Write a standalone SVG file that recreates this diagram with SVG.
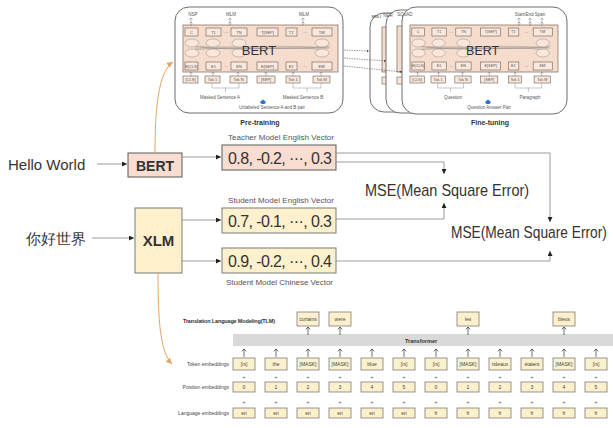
<svg xmlns="http://www.w3.org/2000/svg" width="613" height="428" viewBox="0 0 613 428">
<defs>
<style>
text{font-family:"Liberation Sans",Arial,sans-serif;fill:#333}
.t4{font-size:4px;fill:#555;text-anchor:middle}
.t45{font-size:4.5px;fill:#555;text-anchor:middle}
.t5{font-size:5px;fill:#444;text-anchor:middle}
.rl{font-size:5px;fill:#444;text-anchor:end}
.lbl{font-size:8px;fill:#555}
.vec{font-size:16px;fill:#333}
.mse{font-family:"Liberation Sans",Arial,sans-serif;font-size:16px;fill:#333}
.peach{fill:#f8ddd0;stroke:#5a5a5a;stroke-width:1}
.yel{fill:#fdf0cd;stroke:#7a7a7a;stroke-width:1}
.panel{fill:#fff;stroke:#6e6e6e;stroke-width:1}
.inner{fill:#f5dccd;stroke:#8b7566;stroke-width:0.8}
.tok{fill:#f9e8de;stroke:#6b5b50;stroke-width:0.6}
.ell{fill:#f9e6dc;stroke:#9a8a80;stroke-width:0.5}
.thin{stroke:#8c8c8c;stroke-width:0.5;fill:none}
.conn{stroke:#9a9a9a;stroke-width:1;fill:none}
.dash{stroke:#555;stroke-width:0.6;stroke-dasharray:1.5 1;fill:none}
.orange{stroke:#e3a463;stroke-width:1;fill:none}
.tb{fill:#fdf0cd;stroke:#6a6a6a;stroke-width:0.7}
.ar{stroke:#333;stroke-width:0.7;fill:none}
.ars{stroke:#777;stroke-width:0.5;fill:none}
</style>
<marker id="ah" viewBox="0 0 6 6" refX="6" refY="3" markerWidth="5" markerHeight="5" orient="auto"><path d="M0,0L6,3L0,6z" fill="#222"/></marker>
<marker id="ahs" viewBox="0 0 6 6" refX="6" refY="3" markerWidth="4" markerHeight="4" orient="auto"><path d="M0,0L6,3L0,6z" fill="#333"/></marker>
<marker id="aho" viewBox="0 0 6 6" refX="6" refY="3" markerWidth="6" markerHeight="6" orient="auto"><path d="M0,0L6,3L0,6z" fill="#e3a463"/></marker>
<path id="upar" d="M0,0V-8M-2.2,-5.6L0,-8L2.2,-5.6" class="ar"/>
<path id="sup" d="M0,0V-4M-1.5,-2.5L0,-4L1.5,-2.5" class="ars"/>
<g id="core">
<rect class="inner" x="183" y="25" width="155" height="47"/>
<rect class="tok" x="185" y="28" width="13" height="8"/>
<rect class="tok" x="206" y="28" width="15" height="8"/>
<rect class="tok" x="231" y="28" width="16" height="8"/>
<rect class="tok" x="257" y="28" width="21" height="8" stroke-width="1"/>
<rect class="tok" x="286" y="28" width="11" height="8"/>
<rect class="tok" x="312" y="28" width="20" height="8" stroke-width="1"/>
<text class="t4" x="191.5" y="33.5">C</text>
<text class="t4" x="213.5" y="33.5">T1</text>
<text class="t4" x="239" y="33.5">TN</text>
<text class="t4" x="267.5" y="33.5">T[SEP]</text>
<text class="t4" x="291.5" y="33.5">T1'</text>
<text class="t4" x="322" y="33.5">TM'</text>
<text class="t4" x="226" y="33">...</text>
<text class="t4" x="305" y="33">...</text>
<path class="thin" d="M190,46C220,49 280,44 330,48M190,50C230,46 290,51 330,46M195,48H328M200,47C240,52 290,45 325,50"/>
<ellipse class="ell" cx="192" cy="43" rx="7" ry="4"/>
<ellipse class="ell" cx="213" cy="43" rx="7" ry="4"/>
<ellipse class="ell" cx="239" cy="43" rx="7" ry="4"/>
<ellipse class="ell" cx="322" cy="43" rx="7" ry="4"/>
<ellipse class="ell" cx="192" cy="53" rx="7" ry="4"/>
<ellipse class="ell" cx="213" cy="53" rx="7" ry="4"/>
<ellipse class="ell" cx="239" cy="53" rx="7" ry="4"/>
<ellipse class="ell" cx="322" cy="53" rx="7" ry="4"/>
<text x="259" y="55" font-size="13" fill="#555" text-anchor="middle">BERT</text>
<rect class="tok" x="185" y="62" width="13" height="8"/>
<rect class="tok" x="206" y="62" width="15" height="8"/>
<rect class="tok" x="231" y="62" width="16" height="8"/>
<rect class="tok" x="257" y="62" width="21" height="8" stroke-width="1"/>
<rect class="tok" x="286" y="62" width="11" height="8"/>
<rect class="tok" x="312" y="62" width="20" height="8"/>
<text class="t4" x="191.5" y="67.5">E[CLS]</text>
<text class="t4" x="213.5" y="67.5">E1</text>
<text class="t4" x="239" y="67.5">EN</text>
<text class="t4" x="267.5" y="67.5">E[SEP]</text>
<text class="t4" x="291.5" y="67.5">E1'</text>
<text class="t4" x="322" y="67.5">EM'</text>
<text class="t4" x="226" y="67">...</text>
<text class="t4" x="305" y="67">...</text>
<use href="#sup" x="191" y="76"/>
<use href="#sup" x="213" y="76"/>
<use href="#sup" x="238" y="76"/>
<use href="#sup" x="266" y="76"/>
<use href="#sup" x="293" y="76"/>
<use href="#sup" x="321" y="76"/>
<rect class="tok" x="183" y="76" width="15" height="7"/>
<rect class="tok" x="205" y="76" width="15" height="7"/>
<rect class="tok" x="230" y="76" width="17" height="7"/>
<rect class="tok" x="257" y="76" width="18" height="7"/>
<rect class="tok" x="286" y="76" width="14" height="7"/>
<rect class="tok" x="313" y="76" width="17" height="7"/>
<text class="t4" x="190.5" y="81">[CLS]</text>
<text class="t4" x="212.5" y="81">Tok 1</text>
<text class="t4" x="238.5" y="81">Tok N</text>
<text class="t4" x="266" y="81">[SEP]</text>
<text class="t4" x="293" y="81">Tok 1</text>
<text class="t4" x="321.5" y="81">Tok M</text>
<path class="thin" d="M212,83V88H239V83M225.5,88V92M293,83V88H321V83M307,88V92"/>
</g>
</defs>

<!-- Pre-training panel -->
<g id="pretraining">
<rect class="panel" x="175" y="7" width="168" height="106" rx="14"/>
<use href="#core"/>
<use href="#sup" x="191" y="26"/><use href="#sup" x="191" y="22"/>
<use href="#sup" x="230" y="26"/><use href="#sup" x="230" y="22"/>
<use href="#sup" x="303" y="26"/><use href="#sup" x="303" y="22"/>
<text class="t45" x="193" y="16">NSP</text>
<text class="t45" x="231" y="16">MLM</text>
<text class="t45" x="304" y="16">MLM</text>
<text class="t45" x="220" y="99">Masked Sentence A</text>
<text class="t45" x="303" y="99">Masked Sentence B</text>
<path d="M260,102L263,99.5L266,102L264.5,104H261.5Z" fill="#2f6fd0"/>
<text class="t45" x="272" y="109">Unlabeled Sentence A and B pair</text>
<text x="260" y="125" font-size="7" font-weight="bold" fill="#333" text-anchor="middle">Pre-training</text>
</g>

<!-- Fine-tuning panels -->
<g id="finetune-mnli">
<rect class="panel" x="370" y="13" width="165" height="99" rx="14"/>
<rect class="inner" x="382" y="27" width="40" height="45"/>
<rect class="tok" x="382" y="77" width="12" height="7"/>
<text x="371.5" y="18" font-size="4" fill="#555">MNLI</text>
</g>
<g id="finetune-ner">
<rect class="panel" x="386" y="10" width="170" height="103" rx="14"/>
<rect class="inner" x="397" y="26" width="40" height="46"/>
<rect class="tok" x="397" y="77" width="12" height="7"/>
<text class="t45" x="388" y="17" text-anchor="start">NER</text>
</g>
<g id="finetune-squad">
<rect class="panel" x="402" y="7" width="165" height="107" rx="14"/>
<use href="#core" transform="matrix(0.955,0,0,1,235.2,0)"/>
<text class="t45" x="405" y="16" text-anchor="start">SQuAD</text>
<use href="#sup" x="519" y="26"/><use href="#sup" x="519" y="22"/>
<use href="#sup" x="530" y="26"/><use href="#sup" x="530" y="22"/>
<use href="#sup" x="542" y="26"/><use href="#sup" x="542" y="22"/>
<text class="t45" x="530" y="16">Start/End Span</text>
<text class="t45" x="453" y="99">Question</text>
<text class="t45" x="530" y="99">Paragraph</text>
<path d="M485,102L488,99.5L491,102L489.5,104H486.5Z" fill="#2f6fd0"/>
<text class="t45" x="489" y="109">Question Answer Pair</text>
<text x="490" y="125" font-size="7" font-weight="bold" fill="#333" text-anchor="middle">Fine-tuning</text>
</g>

<!-- Middle nodes -->
<g id="hello"><text x="8" y="170" font-size="15">Hello World</text></g>
<g id="nihao"><text x="26" y="244" font-size="15" font-family="'Noto Sans CJK SC',sans-serif">你好世界</text></g>
<g id="bert">
<rect class="peach" x="128" y="153" width="54" height="24"/>
<text x="155" y="170.5" font-size="14" font-weight="bold" text-anchor="middle">BERT</text>
</g>
<g id="xlm">
<rect class="yel" x="135" y="208" width="47" height="65"/>
<text x="158.5" y="246" font-size="15" font-weight="bold" text-anchor="middle">XLM</text>
</g>
<g id="teacher-vec">
<text class="lbl" x="228" y="140" textLength="106">Teacher Model English Vector</text>
<rect class="peach" x="222" y="145" width="114" height="25"/>
<text class="vec" x="228" y="163.5" textLength="104">0.8, -0.2, ···, 0.3</text>
</g>
<g id="student-en-vec">
<text class="lbl" x="228" y="203" textLength="106">Student Model English Vector</text>
<rect class="yel" x="222" y="208" width="114" height="25"/>
<text class="vec" x="228" y="226.5" textLength="104">0.7, -0.1, ···, 0.3</text>
</g>
<g id="student-zh-vec">
<rect class="yel" x="222" y="248" width="114" height="25"/>
<text class="vec" x="228" y="266.5" textLength="104">0.9, -0.2, ···, 0.4</text>
<text class="lbl" x="226" y="285" textLength="107">Student Model Chinese Vector</text>
</g>
<g id="mse1"><text class="mse" transform="translate(365,196) scale(0.905,1)" x="0" y="0">MSE(Mean Square Error)</text></g>
<g id="mse2"><text class="mse" transform="translate(451,238) scale(0.86,1)" x="0" y="0">MSE(Mean Square Error)</text></g>

<!-- TLM figure -->
<g id="tlm">
<text x="183" y="323" font-size="5.5" font-weight="bold" fill="#333" textLength="92">Translation Language Modeling(TLM)</text>
<rect x="233" y="334" width="380" height="12" fill="#d9d9d9"/>
<text x="405" y="342.5" font-size="5.5" font-weight="bold" fill="#333">Transformer</text>
<rect class="tb" x="297" y="312" width="22" height="14"/><text class="t5" x="308" y="320.5">curtains</text>
<rect class="tb" x="329" y="312" width="22" height="14"/><text class="t5" x="340" y="320.5">were</text>
<rect class="tb" x="457" y="312" width="22" height="14"/><text class="t5" x="468" y="320.5">les</text>
<rect class="tb" x="553" y="312" width="22" height="14"/><text class="t5" x="564" y="320.5">bleus</text>
<use href="#upar" x="308" y="335"/><use href="#upar" x="340" y="335"/><use href="#upar" x="468" y="335"/><use href="#upar" x="564" y="335"/>
<text class="rl" x="229" y="366">Token embeddings</text>
<text class="rl" x="229" y="389">Position embeddings</text>
<text class="rl" x="229" y="415">Language embeddings</text>
<g id="tok-row">
<use href="#upar" x="244" y="357"/><use href="#upar" x="276" y="357"/><use href="#upar" x="308" y="357"/><use href="#upar" x="340" y="357"/><use href="#upar" x="372" y="357"/><use href="#upar" x="404" y="357"/><use href="#upar" x="436" y="357"/><use href="#upar" x="468" y="357"/><use href="#upar" x="500" y="357"/><use href="#upar" x="532" y="357"/><use href="#upar" x="564" y="357"/><use href="#upar" x="596" y="357"/>
<rect class="tb" x="233" y="358" width="22" height="12"/><rect class="tb" x="265" y="358" width="22" height="12"/><rect class="tb" x="297" y="358" width="22" height="12"/><rect class="tb" x="329" y="358" width="22" height="12"/><rect class="tb" x="361" y="358" width="22" height="12"/><rect class="tb" x="393" y="358" width="22" height="12"/><rect class="tb" x="425" y="358" width="22" height="12"/><rect class="tb" x="457" y="358" width="22" height="12"/><rect class="tb" x="489" y="358" width="22" height="12"/><rect class="tb" x="521" y="358" width="22" height="12"/><rect class="tb" x="553" y="358" width="22" height="12"/><rect class="tb" x="585" y="358" width="22" height="12"/>
<text class="t5" x="244" y="365.8">[/s]</text><text class="t5" x="276" y="365.8">the</text><text class="t5" x="308" y="365.8">[MASK]</text><text class="t5" x="340" y="365.8">[MASK]</text><text class="t5" x="372" y="365.8">blue</text><text class="t5" x="404" y="365.8">[/s]</text><text class="t5" x="436" y="365.8">[/s]</text><text class="t5" x="468" y="365.8">[MASK]</text><text class="t5" x="500" y="365.8">rideaux</text><text class="t5" x="532" y="365.8">étaient</text><text class="t5" x="564" y="365.8">[MASK]</text><text class="t5" x="596" y="365.8">[/s]</text>
</g>
<g id="plus" fill="#777">
<text class="t5" x="244" y="379">+</text><text class="t5" x="276" y="379">+</text><text class="t5" x="308" y="379">+</text><text class="t5" x="340" y="379">+</text><text class="t5" x="372" y="379">+</text><text class="t5" x="404" y="379">+</text><text class="t5" x="436" y="379">+</text><text class="t5" x="468" y="379">+</text><text class="t5" x="500" y="379">+</text><text class="t5" x="532" y="379">+</text><text class="t5" x="564" y="379">+</text><text class="t5" x="596" y="379">+</text>
<text class="t5" x="244" y="404">+</text><text class="t5" x="276" y="404">+</text><text class="t5" x="308" y="404">+</text><text class="t5" x="340" y="404">+</text><text class="t5" x="372" y="404">+</text><text class="t5" x="404" y="404">+</text><text class="t5" x="436" y="404">+</text><text class="t5" x="468" y="404">+</text><text class="t5" x="500" y="404">+</text><text class="t5" x="532" y="404">+</text><text class="t5" x="564" y="404">+</text><text class="t5" x="596" y="404">+</text>
</g>
<g id="pos-row">
<rect class="tb" x="233" y="382" width="22" height="10"/><rect class="tb" x="265" y="382" width="22" height="10"/><rect class="tb" x="297" y="382" width="22" height="10"/><rect class="tb" x="329" y="382" width="22" height="10"/><rect class="tb" x="361" y="382" width="22" height="10"/><rect class="tb" x="393" y="382" width="22" height="10"/><rect class="tb" x="425" y="382" width="22" height="10"/><rect class="tb" x="457" y="382" width="22" height="10"/><rect class="tb" x="489" y="382" width="22" height="10"/><rect class="tb" x="521" y="382" width="22" height="10"/><rect class="tb" x="553" y="382" width="22" height="10"/><rect class="tb" x="585" y="382" width="22" height="10"/>
<text class="t5" x="244" y="388.8">0</text><text class="t5" x="276" y="388.8">1</text><text class="t5" x="308" y="388.8">2</text><text class="t5" x="340" y="388.8">3</text><text class="t5" x="372" y="388.8">4</text><text class="t5" x="404" y="388.8">5</text><text class="t5" x="436" y="388.8">0</text><text class="t5" x="468" y="388.8">1</text><text class="t5" x="500" y="388.8">2</text><text class="t5" x="532" y="388.8">3</text><text class="t5" x="564" y="388.8">4</text><text class="t5" x="596" y="388.8">5</text>
</g>
<g id="lang-row">
<rect class="tb" x="233" y="408" width="22" height="10"/><rect class="tb" x="265" y="408" width="22" height="10"/><rect class="tb" x="297" y="408" width="22" height="10"/><rect class="tb" x="329" y="408" width="22" height="10"/><rect class="tb" x="361" y="408" width="22" height="10"/><rect class="tb" x="393" y="408" width="22" height="10"/><rect class="tb" x="425" y="408" width="22" height="10"/><rect class="tb" x="457" y="408" width="22" height="10"/><rect class="tb" x="489" y="408" width="22" height="10"/><rect class="tb" x="521" y="408" width="22" height="10"/><rect class="tb" x="553" y="408" width="22" height="10"/><rect class="tb" x="585" y="408" width="22" height="10"/>
<text class="t5" x="244" y="414.8">en</text><text class="t5" x="276" y="414.8">en</text><text class="t5" x="308" y="414.8">en</text><text class="t5" x="340" y="414.8">en</text><text class="t5" x="372" y="414.8">en</text><text class="t5" x="404" y="414.8">en</text><text class="t5" x="436" y="414.8">fr</text><text class="t5" x="468" y="414.8">fr</text><text class="t5" x="500" y="414.8">fr</text><text class="t5" x="532" y="414.8">fr</text><text class="t5" x="564" y="414.8">fr</text><text class="t5" x="596" y="414.8">fr</text>
</g>
</g>

<!-- Connectors -->
<g id="connectors">
<path class="dash" d="M344,50L369,51" marker-end="url(#ahs)"/>
<path class="dash" d="M344,58L386,61" marker-end="url(#ahs)"/>
<path class="dash" d="M344,66L402,72" marker-end="url(#ahs)"/>
<path class="orange" d="M155,153C155,110 158,72 173,62" marker-end="url(#aho)"/>
<path class="orange" d="M158,273C158,320 160,352 172,364" marker-end="url(#aho)"/>
<path class="conn" d="M97,164H127" stroke="#444" marker-end="url(#ah)"/>
<path class="conn" d="M92,238H134" marker-end="url(#ah)"/>
<path class="conn" d="M182,157H221" marker-end="url(#ah)"/>
<path class="conn" d="M182,220H221" marker-end="url(#ah)"/>
<path class="conn" d="M182,261H221" marker-end="url(#ah)"/>
<path class="conn" d="M336,153H550V222" marker-end="url(#ah)"/>
<path class="conn" d="M336,162H444V174" marker-end="url(#ah)"/>
<path class="conn" d="M336,219H444V203" marker-end="url(#ah)"/>
<path class="conn" d="M336,261H550V251" marker-end="url(#ah)"/>
</g>
</svg>
